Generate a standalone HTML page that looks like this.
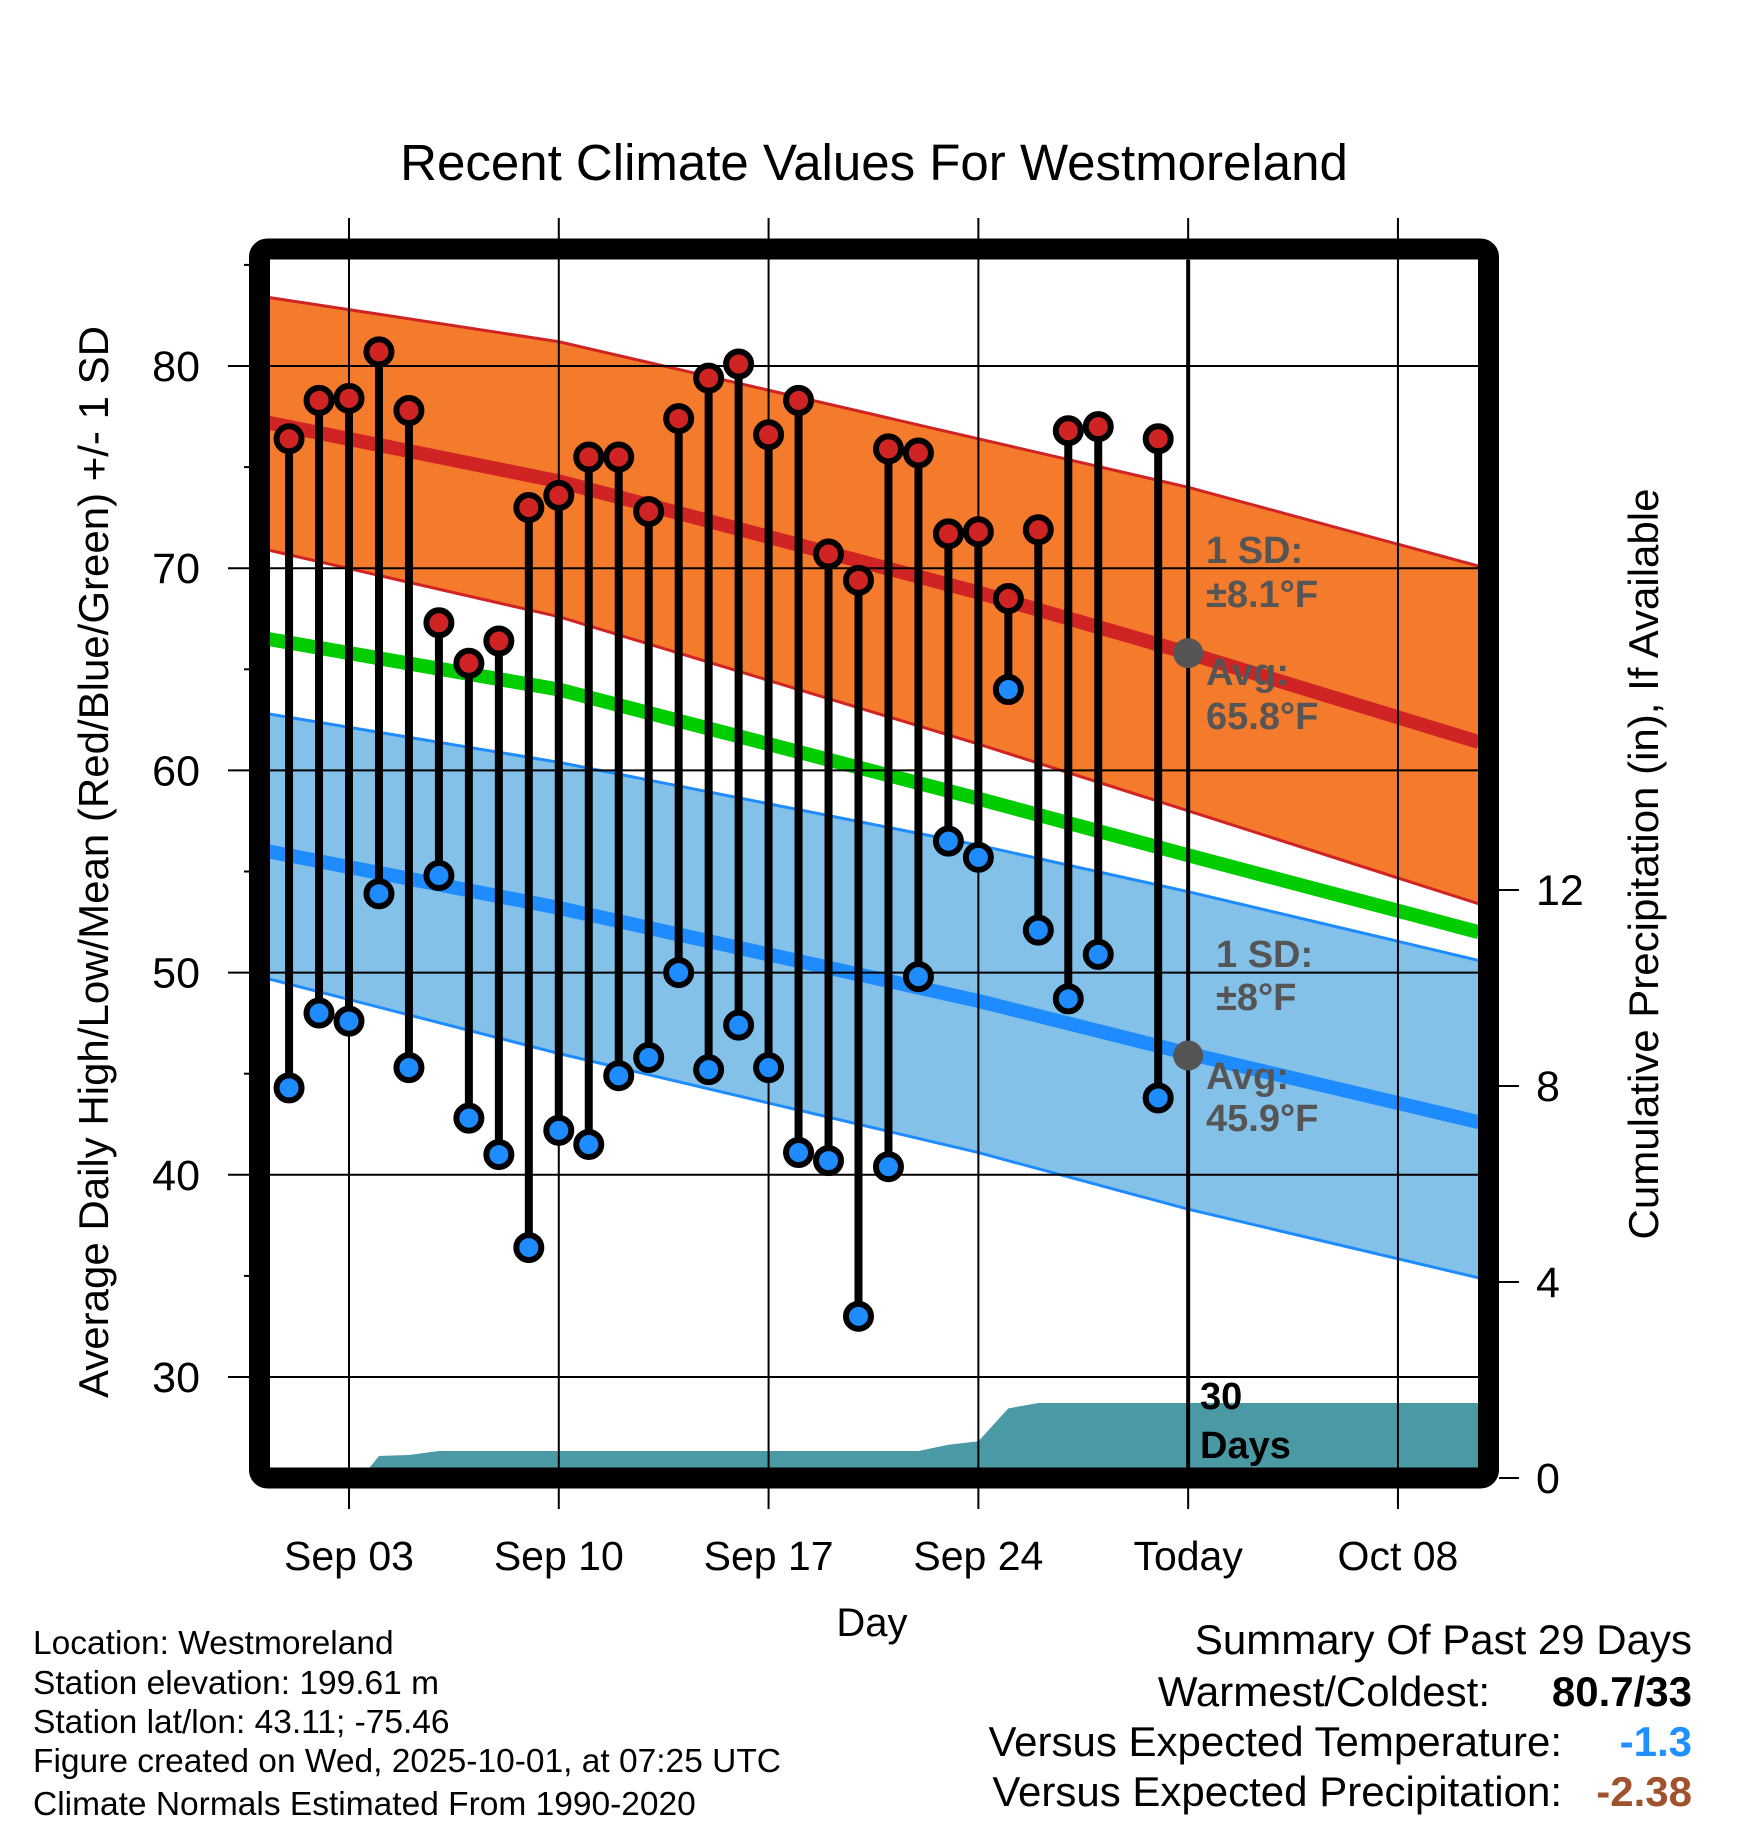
<!DOCTYPE html>
<html><head><meta charset="utf-8">
<style>
html,body{margin:0;padding:0;background:#fff}
svg{display:block}
text{font-family:"Liberation Sans",Arial,sans-serif}
</style></head>
<body>
<svg id="chart" width="1748" height="1828" viewBox="0 0 1748 1828" xmlns="http://www.w3.org/2000/svg">
<defs><clipPath id="plotclip"><rect x="270" y="260" width="1208" height="1208"/></clipPath></defs>
<text x="874" y="180" font-size="51" text-anchor="middle">Recent Climate Values For Westmoreland</text>
<g id="plot" clip-path="url(#plotclip)"></g>
<g id="grid"></g>
<g id="marks" clip-path="url(#plotclip)"></g>
<g id="anno"></g>
<rect x="259.5" y="249" width="1229" height="1229" fill="none" stroke="#000" stroke-width="21" rx="8"/>
<g id="axes"></g>
<text transform="translate(108,862) rotate(-90)" font-size="42" text-anchor="middle">Average Daily High/Low/Mean (Red/Blue/Green) +/- 1 SD</text>
<text transform="translate(1658,864) rotate(-90)" font-size="42" text-anchor="middle">Cumulative Precipitation (in), If Available</text>
<text x="872" y="1636" font-size="40" text-anchor="middle">Day</text>
<g font-size="33.5">
<text x="33" y="1654">Location: Westmoreland</text>
<text x="33" y="1694">Station elevation: 199.61 m</text>
<text x="33" y="1733">Station lat/lon: 43.11; -75.46</text>
<text x="33" y="1772">Figure created on Wed, 2025-10-01, at 07:25 UTC</text>
<text x="33" y="1815">Climate Normals Estimated From 1990-2020</text>
</g>
<g font-size="42">
<text x="1692" y="1654" text-anchor="end">Summary Of Past 29 Days</text>
<text x="1490" y="1706" text-anchor="end">Warmest/Coldest:</text>
<text x="1692" y="1706" text-anchor="end" font-weight="bold">80.7/33</text>
<text x="1562" y="1756" text-anchor="end">Versus Expected Temperature:</text>
<text x="1692" y="1756" text-anchor="end" font-weight="bold" fill="#1e90ff">-1.3</text>
<text x="1562" y="1806" text-anchor="end">Versus Expected Precipitation:</text>
<text x="1692" y="1806" text-anchor="end" font-weight="bold" fill="#a0522d">-2.38</text>
</g>
</svg>
<script>
const days=[1,2,3,4,5,6,7,8,9,10,11,12,13,14,15,16,17,18,19,20,21,22,23,24,25,26,27,28,30];
const highs=[76.4,78.3,78.4,80.7,77.8,67.3,65.3,66.4,73.0,73.6,75.5,75.5,72.8,77.4,79.4,80.1,76.6,78.3,70.7,69.4,75.9,75.7,71.7,71.8,68.5,71.9,76.8,77.0,76.4];
const lows=[44.3,48.0,47.6,53.9,45.3,54.8,42.8,41.0,36.4,42.2,41.5,44.9,45.8,50.0,45.2,47.4,45.3,41.1,40.7,33.0,40.4,49.8,56.5,55.7,64.0,52.1,48.7,50.9,43.8];
const normDays=[0.3,10,24,31,40.7];
const hiTop=[83.4,81.2,76.4,74.0,70.1];
const hiAvg=[77.2,74.3,68.8,65.8,61.4];
const hiBot=[70.9,67.6,61.3,58.0,53.4];
const meanAvg=[66.5,64.0,58.6,55.8,52.0];
const loTop=[62.8,60.4,56.3,54.0,50.6];
const loAvg=[56.0,53.2,48.6,46.0,42.6];
const loBot=[49.7,46.0,41.1,38.3,34.9];
const precipDays=[0.3,3.4,4,5,6,22,23,24,25,26,40.7];
const precipVals=[0,0,0.45,0.47,0.55,0.55,0.68,0.75,1.42,1.53,1.53];
const xTickDays=[3,10,17,24,31,38];
const xTickLabels=["Sep 03","Sep 10","Sep 17","Sep 24","Today","Oct 08"];
const yTicks=[30,40,50,60,70,80];
const pTicks=[0,4,8,12];

const X=d=>349+(d-3)*29.97;
const Y=t=>366+(80-t)*20.22;
const P=p=>1478-p*49;
const NS="http://www.w3.org/2000/svg";
function mk(tag,attrs,parent){const e=document.createElementNS(NS,tag);for(const k in attrs)e.setAttribute(k,attrs[k]);parent.appendChild(e);return e;}
const plot=document.getElementById('plot'),grid=document.getElementById('grid'),marks=document.getElementById('marks'),axes=document.getElementById('axes'),anno=document.getElementById('anno');
function pts(ds,vs){return ds.map((d,i)=>X(d).toFixed(1)+','+Y(vs[i]).toFixed(1));}
function band(top,bot,fill,name){
  const p=pts(normDays,top).concat(pts(normDays,bot).reverse()).join(' ');
  const e=mk('polygon',{points:p,fill:fill},plot);
  
  
}
function line(vals,color,w,name){
  const e=mk('polyline',{points:pts(normDays,vals).join(' '),fill:'none',stroke:color,'stroke-width':w,'stroke-linejoin':'round'},plot);
  
  
}
band(hiTop,hiBot,'#f47a2c','high-sd-band');
line(hiTop,'#d02424',3,'high-sd-top');
line(hiBot,'#d02424',3,'high-sd-bottom');
band(loTop,loBot,'#84c1e8','low-sd-band');
line(loTop,'#1e8cff',3,'low-sd-top');
line(loBot,'#1e8cff',3,'low-sd-bottom');
line(hiAvg,'#d02424',14,'avg-high-line');
line(loAvg,'#1e8cff',14,'avg-low-line');
line(meanAvg,'#00cc00',14,'avg-mean-line');
{
  let p=precipDays.map((d,i)=>X(d).toFixed(1)+','+P(precipVals[i]).toFixed(1));
  p.push(X(precipDays[precipDays.length-1]).toFixed(1)+',1480');
  p.push(X(precipDays[0]).toFixed(1)+',1480');
  const e=mk('polygon',{points:p.join(' '),fill:'#4a9aa5'},plot);
  
  
}
yTicks.forEach(t=>{
  const e=mk('line',{x1:228,x2:1478,y1:Y(t),y2:Y(t),stroke:'#000','stroke-width':2},grid);
  
  
  const l=mk('text',{x:200,y:Y(t)+15,'font-size':43,'text-anchor':'end'},axes);
  l.textContent=t;
  
  
});
yTicks.forEach(t=>{
  const e=mk('line',{x1:244,x2:250,y1:Y(t+5),y2:Y(t+5),stroke:'#000','stroke-width':2},grid);
  
  
});
xTickDays.forEach((d,i)=>{
  const e=mk('line',{x1:X(d),x2:X(d),y1:218,y2:1509,stroke:'#000','stroke-width':2},grid);
  
  
  const l=mk('text',{x:X(d),y:1570,'font-size':41,'text-anchor':'middle'},axes);
  l.textContent=xTickLabels[i];
  
  
});
pTicks.forEach(p=>{
  const e=mk('line',{x1:1499,x2:1519,y1:P(p),y2:P(p),stroke:'#000','stroke-width':2},axes);
  
  
  const l=mk('text',{x:1536,y:P(p)+15,'font-size':43},axes);
  l.textContent=p;
  
  
});
{
  const e=mk('line',{x1:X(31),x2:X(31),y1:260,y2:1468,stroke:'#000','stroke-width':4},marks);
  
  
}
days.forEach((d,i)=>{
  const s=mk('line',{x1:X(d),x2:X(d),y1:Y(highs[i]),y2:Y(lows[i]),stroke:'#000','stroke-width':8},marks);
  
  
});
days.forEach((d,i)=>{
  const h=mk('circle',{cx:X(d),cy:Y(highs[i]),r:12.5,fill:'#d02424',stroke:'#000','stroke-width':6},marks);
  
  
  const l=mk('circle',{cx:X(d),cy:Y(lows[i]),r:12.5,fill:'#1e8cff',stroke:'#000','stroke-width':6},marks);
  
  
});
[[65.8,'today-avg-high-dot'],[45.9,'today-avg-low-dot']].forEach(a=>{
  const c=mk('circle',{cx:X(31),cy:Y(a[0]),r:15,fill:'#555'},anno);
  
  
});
const annos=[["1 SD:",1206,563,'#555'],["±8.1°F",1206,607,'#555'],["Avg:",1206,685,'#555'],["65.8°F",1206,729,'#555'],
["1 SD:",1216,967,'#555'],["±8°F",1216,1010,'#555'],["Avg:",1206,1089,'#555'],["45.9°F",1206,1131,'#555'],
["30",1200,1409,'#000'],["Days",1200,1458,'#000']];
annos.forEach(a=>{
  const t=mk('text',{x:a[1],y:a[2],'font-size':38,'font-weight':'bold',fill:a[3]},anno);
  t.textContent=a[0];
  
  
});
</script>
</body></html>
